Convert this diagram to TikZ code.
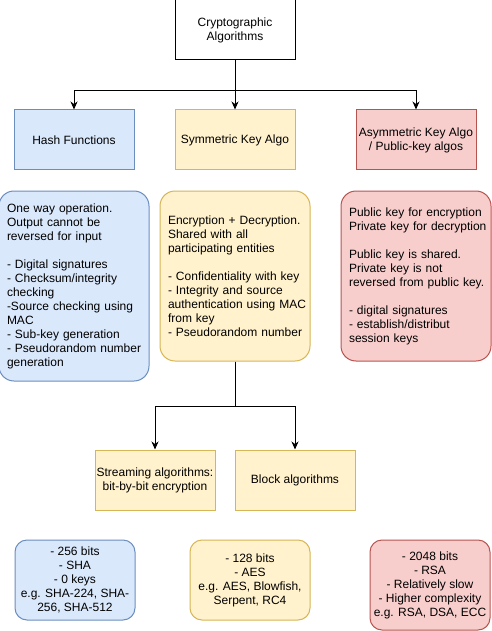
\documentclass[tikz,border=0pt]{standalone}
\usepackage{fontspec}
\setmainfont{Liberation Sans}
\usetikzlibrary{arrows.meta,positioning}
\definecolor{bluefill}{HTML}{DAE8FC}
\definecolor{blueline}{HTML}{6C8EBF}
\definecolor{yellowfill}{HTML}{FFF2CC}
\definecolor{yellowline}{HTML}{D6B656}
\definecolor{redfill}{HTML}{F8CECC}
\definecolor{redline}{HTML}{B85450}
% keep every typed line on one line
\newcommand\keeplines{\rightskip=0pt plus 1fil minus 20pt\hyphenpenalty=10000\relax}

\begin{document}
\begin{tikzpicture}[
  x=1pt,y=-1pt,
  node distance=20pt and 40pt,
  every node/.style={font=\fontsize{12}{14}\selectfont,align=center,inner sep=0pt},
  box/.style={draw,line width=1pt,minimum width=120pt,minimum height=60pt},
  bluebox/.style={box,draw=blueline,fill=bluefill},
  yellowbox/.style={box,draw=yellowline,fill=yellowfill},
  redbox/.style={box,draw=redline,fill=redfill},
  desc/.style={line width=1pt,rounded corners=15pt,align=left,
              text width=134pt,inner xsep=8pt,minimum height=170pt},
  note/.style={line width=1pt,rounded corners=12pt,
              minimum width=120pt,minimum height=80pt},
  arr/.style={-{Stealth[length=8pt,width=7pt,inset=2.5pt]},line width=1pt}
]
\useasboundingbox[fill=white] (0,0) rectangle (491,631);
% top level
\node[box] (crypto) at (235,30) {Cryptographic\\Algorithms};
\node[yellowbox] (sym) at (235,140) {Symmetric Key Algo};
\node[bluebox,left=of sym] (hash) {Hash Functions};
\node[redbox,right=60pt of sym] (asym) {Asymmetric Key Algo\\/ Public-key algos};
% descriptions
\node[desc,draw=blueline,fill=bluefill,minimum height=190pt,below=of hash] (hashdesc)
  {\keeplines One way operation.\\Output cannot be\\reversed for input\\~\\
   - Digital signatures\\- Checksum/integrity\\checking\\-Source checking using\\
   MAC\\- Sub-key generation\\- Pseudorandom number\\generation\par};
\node[desc,draw=yellowline,fill=yellowfill,below=of sym] (symdesc)
  {\keeplines Encryption + Decryption.\\Shared with all\\participating entities\\~\\
   - Confidentiality with key\\- Integrity and source\\authentication using MAC\\
   from key\\- Pseudorandom number\par};
\node[desc,draw=redline,fill=redfill,below=of asym] (asymdesc)
  {\keeplines Public key for encryption\\Private key for decryption\\~\\
   Public key is shared.\\Private key is not\\reversed from public key.\\~\\
   - digital signatures\\- establish/distribut\\session keys\par};
% symmetric sub types
\node[yellowbox] (stream) at (155,480) {Streaming algorithms:\\bit-by-bit encryption};
\node[yellowbox] (block) at (295,480) {Block algorithms};
% key sizes
\node[note,draw=blueline,fill=bluefill] (hashkey) at (75,580)
  {- 256 bits\\- SHA\\- 0 keys\\e.g. SHA-224, SHA-\\256, SHA-512};
\node[note,draw=yellowline,fill=yellowfill] (symkey) at (250,580)
  {- 128 bits\\- AES\\e.g. AES, Blowfish,\\Serpent, RC4};
\node[note,draw=redline,fill=redfill,minimum height=90pt] (asymkey) at (430,585)
  {- 2048 bits\\- RSA\\- Relatively slow\\- Higher complexity\\e.g. RSA, DSA, ECC};
\draw[arr] (crypto) -- (sym);
\draw[arr] (crypto.south) -- ++(0,-30pt) -| (hash);
\draw[arr] (crypto.south) -- ++(0,-30pt) -| (asym);
\draw[arr] (symdesc.south) -- ++(0,-45pt) -| (stream);
\draw[arr] (symdesc.south) -- ++(0,-45pt) -| (block);
\end{tikzpicture}
\end{document}
